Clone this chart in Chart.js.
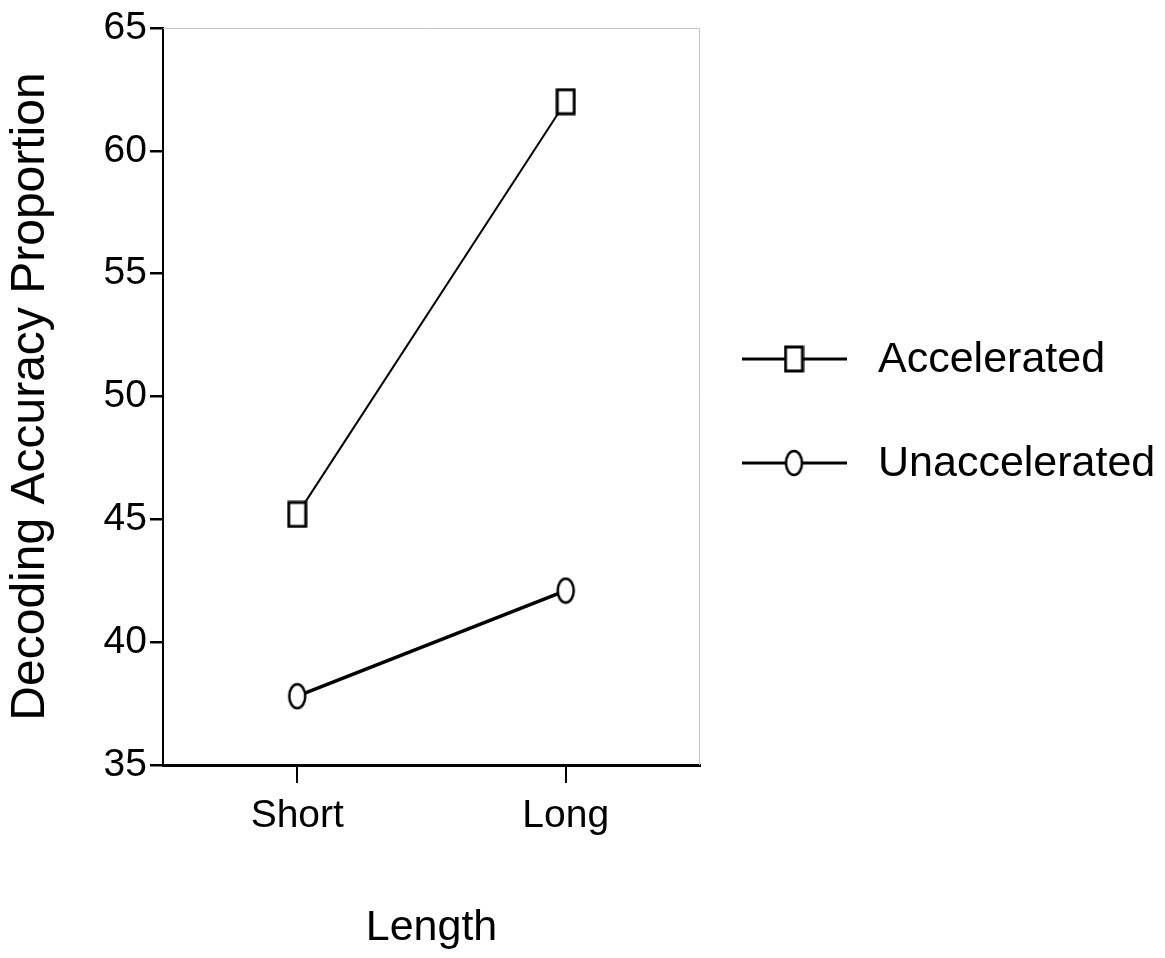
<!DOCTYPE html>
<html>
<head>
<meta charset="utf-8">
<script src="https://cdn.jsdelivr.net/npm/chart.js@4"></script>
<style>
  html, body { margin: 0; padding: 0; background: #fff; }
  #wrap { width: 1165px; height: 958px; }
</style>
</head>
<body>
<div id="wrap"><canvas id="mycanvas"></canvas></div>
<script>
// data
var lengths = ['Short', 'Long'];
var accelerated = [45.2, 62.0];
var unaccelerated = [37.8, 42.1];
var seriesNames = ['Accelerated', 'Unaccelerated'];
var yMin = 35, yMax = 65, yStep = 5;

var FONT = '"Liberation Sans", Arial, sans-serif';

// tall open markers like the original
function makeMarker(kind) {
	var c = document.createElement('canvas');
	c.width = 21; c.height = 28;
	var g = c.getContext('2d');
	g.fillStyle = '#fff';
	g.strokeStyle = '#000';
	if (kind === 'rect') {
		g.lineWidth = 3;
		g.fillRect(2, 2, 17, 24);
		g.strokeRect(2, 2, 17, 24);
	} else {
		g.lineWidth = 2.5;
		g.beginPath();
		g.ellipse(10.5, 14, 8, 12, 0, 0, Math.PI * 2);
		g.fill();
		g.stroke();
	}
	return c;
}
var squareMark = makeMarker('rect');
var circleMark = makeMarker('circle');

// light frame on top and right of the plot
var framePlugin = {
	id: 'frame',
	beforeDatasetsDraw: function(chart) {
		var a = chart.chartArea, ctx = chart.ctx;
		ctx.save();
		ctx.strokeStyle = '#c4c4c4';
		ctx.lineWidth = 1;
		ctx.beginPath();
		ctx.moveTo(a.left, a.top + 0.5);
		ctx.lineTo(a.right - 0.5, a.top + 0.5);
		ctx.lineTo(a.right - 0.5, a.bottom);
		ctx.stroke();
		ctx.restore();
	}
};

// legend: line with marker, then label
var legendPlugin = {
	id: 'sideLegend',
	afterDraw: function(chart) {
		var ctx = chart.ctx;
		var rows = [359, 463];
		ctx.save();
		chart.data.datasets.forEach(function(ds, i) {
			var y = rows[i];
			ctx.strokeStyle = '#000';
			ctx.lineWidth = 3;
			ctx.beginPath();
			ctx.moveTo(742, y);
			ctx.lineTo(847, y);
			ctx.stroke();
			var img = ds.pointStyle;
			ctx.drawImage(img, 794 - img.width / 2, y - img.height / 2);
			ctx.fillStyle = '#000';
			ctx.font = '43px ' + FONT;
			ctx.textBaseline = 'middle';
			ctx.textAlign = 'left';
			ctx.fillText(ds.label, 878, y + 1);
		});
		ctx.restore();
	}
};

var chartdata = {
	labels: lengths,
	datasets: [
		{
			label: seriesNames[0],
			data: accelerated,
			borderColor: '#000',
			borderWidth: 2,
			pointStyle: squareMark,
			pointRadius: 12
		},
		{
			label: seriesNames[1],
			data: unaccelerated,
			borderColor: '#000',
			borderWidth: 3.5,
			pointStyle: circleMark,
			pointRadius: 12
		}
	]
};

var ctx = document.getElementById('mycanvas');
var lineGraph = new Chart(ctx, {
	type: 'line',
	data: chartdata,
	plugins: [framePlugin, legendPlugin],
	options: {
		responsive: true,
		maintainAspectRatio: false,
		animation: false,
		layout: { padding: { top: 28, right: 465, left: 0, bottom: 0 } },
		plugins: {
			legend: { display: false },
			tooltip: { enabled: false }
		},
		scales: {
			x: {
				offset: true,
				afterFit: function(scale) { scale.height = 193; },
				grid: {
					offset: false,
					drawOnChartArea: false,
					drawTicks: true,
					tickLength: 18,
					color: '#000',
					lineWidth: 2
				},
				border: { display: true, color: '#000', width: 3 },
				ticks: {
					color: '#000',
					padding: 10,
					font: { family: FONT, size: 39 }
				},
				title: {
					display: true,
					text: 'Length',
					color: '#000',
					font: { family: FONT, size: 43 },
					padding: { top: 0, bottom: 4 }
				}
			},
			y: {
				min: yMin,
				max: yMax,
				afterFit: function(scale) { scale.width = 163; },
				grid: {
					drawOnChartArea: false,
					drawTicks: true,
					tickLength: 13,
					color: '#000',
					lineWidth: 2.5
				},
				border: { display: true, color: '#000', width: 2 },
				ticks: {
					stepSize: yStep,
					color: '#000',
					padding: 3,
					font: { family: FONT, size: 39 }
				},
				title: {
					display: true,
					text: 'Decoding Accuracy Proportion',
					color: '#000',
					font: { family: FONT, size: 48 },
					padding: { top: 2, bottom: 0 }
				}
			}
		}
	}
});
</script>
</body>
</html>
